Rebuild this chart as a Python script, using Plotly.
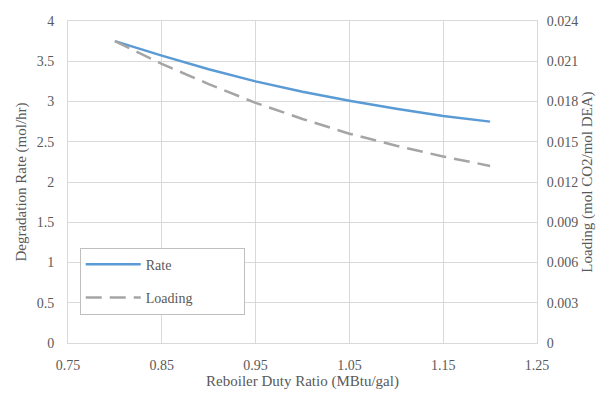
import plotly.graph_objects as go

duty = [0.80, 0.85, 0.90, 0.95, 1.00, 1.05, 1.10, 1.15, 1.20]
rate = [3.75, 3.57, 3.40, 3.25, 3.12, 3.01, 2.91, 2.82, 2.75]
loading = [0.0225, 0.0208, 0.0193, 0.0179, 0.0167, 0.0156, 0.0147, 0.0139, 0.0132]

x_ticks = [0.75, 0.85, 0.95, 1.05, 1.15, 1.25]
y_ticks = [0, 0.5, 1, 1.5, 2, 2.5, 3, 3.5, 4]
y2_ticks = [0, 0.003, 0.006, 0.009, 0.012, 0.015, 0.018, 0.021, 0.024]

font_family = "'Liberation Serif', 'Times New Roman', Times, serif"
text_color = "#595959"
grid_color = "#d9d9d9"

fig = go.Figure()
fig.add_trace(go.Scatter(x=duty, y=rate, mode="lines", name="Rate             ", legendgroup="a",
                         line=dict(color="#5b9bd5", width=2.5)))
fig.add_trace(go.Scatter(x=duty, y=loading, mode="lines", name="Loading             ", yaxis="y2",
                         legendgroup="b",
                         line=dict(color="#a5a5a5", width=2.5, dash="16px,8px")))

fig.update_layout(
    width=610, height=403,
    margin=dict(l=68, r=73, t=21, b=60),
    paper_bgcolor="white", plot_bgcolor="white",
    font=dict(family=font_family, color=text_color, size=14),
    showlegend=True,
    legend=dict(x=0.025, y=0.296, xanchor="left", yanchor="top",
                bordercolor="#bfbfbf", borderwidth=1, bgcolor="white",
                font=dict(family=font_family, size=14, color=text_color),
                tracegroupgap=12, itemwidth=55),
    xaxis=dict(range=[0.75, 1.25], tickvals=x_ticks,
               ticktext=["0.75", "0.85", "0.95", "1.05", "1.15", "1.25"],
               showgrid=True, gridcolor=grid_color, zeroline=False,
               showline=True, linecolor=grid_color, mirror=True,
               title=dict(text="Reboiler Duty Ratio (MBtu/gal)", font=dict(family=font_family, size=15), standoff=2),
               ticks="outside", ticklen=9, tickcolor="rgba(0,0,0,0)",
               tickfont=dict(family=font_family, size=14)),
    yaxis=dict(range=[0, 4], tickvals=y_ticks,
               ticktext=["0", "0.5", "1", "1.5", "2", "2.5", "3", "3.5", "4"],
               showgrid=True, gridcolor=grid_color, zeroline=False,
               showline=True, linecolor=grid_color,
               title=dict(text="Degradation Rate (mol/hr)", font=dict(family=font_family, size=15), standoff=6),
               ticks="outside", ticklen=10, tickcolor="rgba(0,0,0,0)",
               tickfont=dict(family=font_family, size=14)),
    yaxis2=dict(range=[0, 0.024], tickvals=y2_ticks,
                ticktext=["0", "0.003", "0.006", "0.009", "0.012", "0.015", "0.018", "0.021", "0.024"],
                overlaying="y", side="right", showgrid=False, zeroline=False,
                showline=True, linecolor=grid_color,
                title=dict(text="Loading (mol CO2/mol DEA)", font=dict(family=font_family, size=15), standoff=4),
                ticks="outside", ticklen=6, tickcolor="rgba(0,0,0,0)",
                tickfont=dict(family=font_family, size=14)),
)

fig.write_html("out.html")
